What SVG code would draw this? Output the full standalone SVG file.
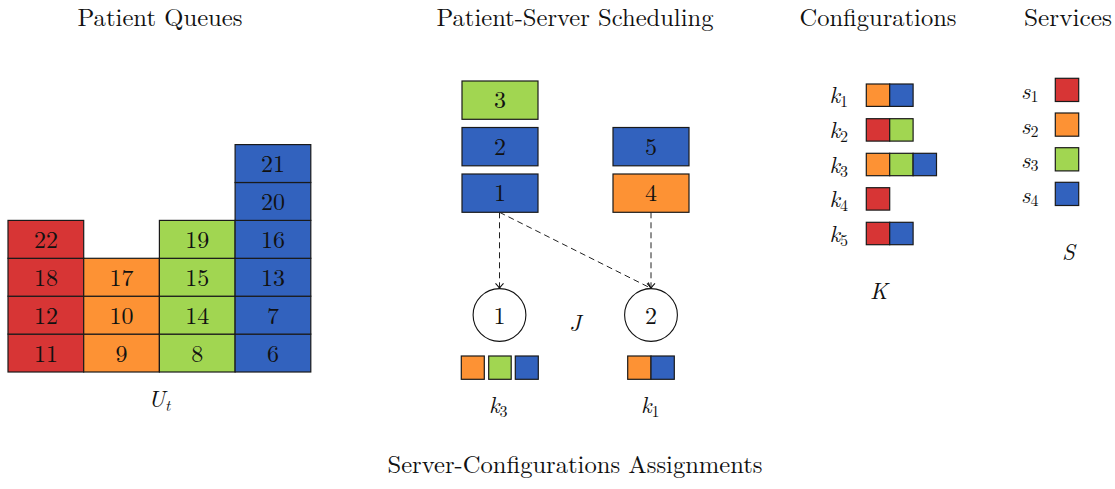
<svg xmlns="http://www.w3.org/2000/svg" width="1115" height="489" viewBox="0 0 1115 489">
<defs>
<style>
.r{fill:#d73535}.o{fill:#fd9234}.g{fill:#a1d651}.b{fill:#3262be}
.q{stroke:#1a1a1a;stroke-width:1.2}
text{fill:#111;font-family:'Latin Modern Roman','CMU Serif','Liberation Serif','Times New Roman',serif}
.t{font-size:24px;text-anchor:middle}
.n{font-size:24px;text-anchor:middle}
.m{font-size:23px;font-style:italic}
.sub{font-size:16px;font-style:normal}
.it{font-style:italic}
.c{fill:#fff;stroke:#111;stroke-width:1.1}
.e{stroke:#222;stroke-width:1;stroke-dasharray:6 4;fill:none}
</style>
<marker id="ah" viewBox="-6 -5 8 10" markerWidth="8" markerHeight="10" refX="0" refY="0" orient="auto" markerUnits="userSpaceOnUse">
<path d="M-5,-4 Q-2,-1 0,0 Q-2,1 -5,4" fill="none" stroke="#111" stroke-width="1.1"/>
</marker>
</defs>
<rect width="1115" height="489" fill="#fff"/>
<g id="titles">
<text class="t" x="160" y="26" textLength="165" lengthAdjust="spacingAndGlyphs">Patient Queues</text>
<text class="t" x="575" y="26" textLength="277" lengthAdjust="spacingAndGlyphs">Patient-Server Scheduling</text>
<text class="t" x="878" y="26" textLength="157" lengthAdjust="spacingAndGlyphs">Configurations</text>
<text class="t" x="1068" y="26" textLength="88" lengthAdjust="spacingAndGlyphs">Services</text>
<text class="t" x="575" y="473" textLength="375" lengthAdjust="spacingAndGlyphs">Server-Configurations Assignments</text>
</g>

<g id="queues">
<rect class="q r" x="8" y="334.1" width="75.7" height="37.9"/><text class="n" x="45.9" y="361.5">11</text>
<rect class="q r" x="8" y="296.2" width="75.7" height="37.9"/><text class="n" x="45.9" y="323.6">12</text>
<rect class="q r" x="8" y="258.3" width="75.7" height="37.9"/><text class="n" x="45.9" y="285.7">18</text>
<rect class="q r" x="8" y="220.4" width="75.7" height="37.9"/><text class="n" x="45.9" y="247.8">22</text>
<rect class="q o" x="83.7" y="334.1" width="75.7" height="37.9"/><text class="n" x="121.6" y="361.5">9</text>
<rect class="q o" x="83.7" y="296.2" width="75.7" height="37.9"/><text class="n" x="121.6" y="323.6">10</text>
<rect class="q o" x="83.7" y="258.3" width="75.7" height="37.9"/><text class="n" x="121.6" y="285.7">17</text>
<rect class="q g" x="159.4" y="334.1" width="75.7" height="37.9"/><text class="n" x="197.3" y="361.5">8</text>
<rect class="q g" x="159.4" y="296.2" width="75.7" height="37.9"/><text class="n" x="197.3" y="323.6">14</text>
<rect class="q g" x="159.4" y="258.3" width="75.7" height="37.9"/><text class="n" x="197.3" y="285.7">15</text>
<rect class="q g" x="159.4" y="220.4" width="75.7" height="37.9"/><text class="n" x="197.3" y="247.8">19</text>
<rect class="q b" x="235.1" y="334.1" width="75.7" height="37.9"/><text class="n" x="273" y="361.5">6</text>
<rect class="q b" x="235.1" y="296.2" width="75.7" height="37.9"/><text class="n" x="273" y="323.6">7</text>
<rect class="q b" x="235.1" y="258.3" width="75.7" height="37.9"/><text class="n" x="273" y="285.7">13</text>
<rect class="q b" x="235.1" y="220.4" width="75.7" height="37.9"/><text class="n" x="273" y="247.8">16</text>
<rect class="q b" x="235.1" y="182.5" width="75.7" height="37.9"/><text class="n" x="273" y="209.9">20</text>
<rect class="q b" x="235.1" y="144.6" width="75.7" height="37.9"/><text class="n" x="273" y="172">21</text>
<text class="m" x="148" y="407">U<tspan class="sub it" dy="4">t</tspan></text>
</g>

<g id="patients">
<g id="p3"><rect class="q g" x="462" y="81" width="76" height="38.3"/><text class="n" x="500" y="108.4">3</text></g>
<g id="p2"><rect class="q b" x="462" y="127.5" width="76" height="38.3"/><text class="n" x="500" y="154.9">2</text></g>
<g id="p1"><rect class="q b" x="462" y="174" width="76" height="38.3"/><text class="n" x="500" y="201.4">1</text></g>
<g id="p5"><rect class="q b" x="613" y="127.5" width="76" height="38.3"/><text class="n" x="651" y="154.9">5</text></g>
<g id="p4"><rect class="q o" x="613" y="174" width="76" height="38.3"/><text class="n" x="651" y="201.4">4</text></g>
</g>

<g id="connectors">
<line class="e" x1="499.5" y1="212.3" x2="499.5" y2="288.3" marker-end="url(#ah)"/>
<line class="e" x1="499.5" y1="212.3" x2="651" y2="288.3" marker-end="url(#ah)"/>
<line class="e" x1="651" y1="212.3" x2="651" y2="288.3" marker-end="url(#ah)"/>
</g>

<g id="server1">
<circle class="c" cx="499.5" cy="315" r="26.4"/>
<text class="n" x="499.5" y="323.5">1</text>
<rect class="q o" x="461.3" y="356" width="23" height="23.3"/>
<rect class="q g" x="488.7" y="356" width="22.5" height="23.3"/>
<rect class="q b" x="515.3" y="356" width="23" height="23.3"/>
<text class="m" x="489" y="413">k<tspan class="sub" dy="4">3</tspan></text>
</g>
<g id="server2">
<circle class="c" cx="651" cy="315" r="26.4"/>
<text class="n" x="651" y="323.5">2</text>
<rect class="q o" x="627.7" y="356" width="23.3" height="23.3"/>
<rect class="q b" x="651" y="356" width="23.3" height="23.3"/>
<text class="m" x="641" y="413">k<tspan class="sub" dy="4">1</tspan></text>
</g>
<g id="label-J"><text class="m" x="569" y="331">J</text></g>

<g id="configurations">
<text class="m" x="829.5" y="103.2">k<tspan class="sub" dy="4">1</tspan></text>
<rect class="q o" x="866.3" y="84" width="23.4" height="22.4"/><rect class="q b" x="889.7" y="84" width="23.4" height="22.4"/>
<text class="m" x="829.5" y="137.9">k<tspan class="sub" dy="4">2</tspan></text>
<rect class="q r" x="866.3" y="118.7" width="23.4" height="22.4"/><rect class="q g" x="889.7" y="118.7" width="23.4" height="22.4"/>
<text class="m" x="829.5" y="172.5">k<tspan class="sub" dy="4">3</tspan></text>
<rect class="q o" x="866.3" y="153.3" width="23.4" height="22.4"/><rect class="q g" x="889.7" y="153.3" width="23.4" height="22.4"/><rect class="q b" x="913.1" y="153.3" width="23.4" height="22.4"/>
<text class="m" x="829.5" y="206.9">k<tspan class="sub" dy="4">4</tspan></text>
<rect class="q r" x="866.3" y="187.7" width="23.4" height="22.4"/>
<text class="m" x="829.5" y="241.5">k<tspan class="sub" dy="4">5</tspan></text>
<rect class="q r" x="866.3" y="222.3" width="23.4" height="22.4"/><rect class="q b" x="889.7" y="222.3" width="23.4" height="22.4"/>
<text class="m" x="870" y="299">K</text>
</g>

<g id="services">
<text class="m" x="1021" y="99">s<tspan class="sub" dy="3">1</tspan></text>
<rect class="q r" x="1055.3" y="78.3" width="23.4" height="23.2"/>
<text class="m" x="1021" y="133.5">s<tspan class="sub" dy="3">2</tspan></text>
<rect class="q o" x="1055.3" y="113" width="23.4" height="23.2"/>
<text class="m" x="1021" y="168">s<tspan class="sub" dy="3">3</tspan></text>
<rect class="q g" x="1055.3" y="147.7" width="23.4" height="23.2"/>
<text class="m" x="1021" y="202.7">s<tspan class="sub" dy="3">4</tspan></text>
<rect class="q b" x="1055.3" y="182.3" width="23.4" height="23.2"/>
<text class="m" x="1062" y="260">S</text>
</g>
</svg>
